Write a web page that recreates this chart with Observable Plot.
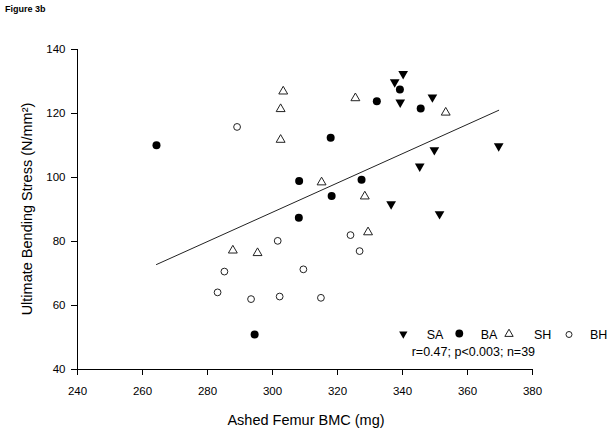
<!DOCTYPE html>
<html>
<head>
<meta charset="utf-8">
<script src="https://cdn.jsdelivr.net/npm/d3@7"></script>
<script src="https://cdn.jsdelivr.net/npm/@observablehq/plot@0.6"></script>
<style>
  html, body { margin: 0; padding: 0; background: #fff; }
  #wrap { position: relative; width: 612px; height: 430px; overflow: hidden; }
  #wrap svg { position: absolute; left: 0; top: 0; }
</style>
</head>
<body>
<div id="wrap"></div>
<script>
// ---- data ----
const groups = ["SA", "BA", "SH", "BH"];

const saX = [340.2, 337.6, 339.3, 349.2, 349.8, 345.3, 369.6, 336.5, 351.4];
const saY = [132.4, 129.8, 123.5, 125.1, 108.6, 103.5, 109.8, 91.7, 88.6];

const baX = [264.3, 317.9, 308.2, 327.4, 318.2, 308.1, 339.2, 332.1, 345.6, 294.5];
const baY = [110.1, 112.4, 98.9, 99.3, 94.2, 87.4, 127.5, 123.8, 121.6, 50.9];

const shX = [303.3, 302.5, 302.5, 315.1, 325.5, 328.4, 353.3, 287.8, 295.4, 329.4];
const shY = [126.9, 121.4, 111.8, 98.5, 124.8, 94.1, 120.3, 77.2, 76.4, 82.9];

const bhX = [289.1, 301.6, 285.2, 283.1, 293.4, 302.2, 309.5, 314.9, 324.0, 326.8];
const bhY = [115.8, 80.2, 70.6, 64.1, 62.0, 62.8, 71.3, 62.4, 82.0, 77.0];

// regression line end points
const fitX = [264.3, 369.6];
const fitY = [72.8, 121.0];

const xTicks = [240, 260, 280, 300, 320, 340, 360, 380];
const yTicks = [40, 60, 80, 100, 120, 140];

const figureLabel = "Figure 3b";
const xTitle = "Ashed Femur BMC (mg)";
const yTitle = "Ultimate Bending Stress (N/mm²)";
const statsText = "r=0.47; p<0.003; n=39";

// ---- tables ----
const toRows = (xs, ys, g) => xs.map((x, i) => ({x, y: ys[i], g}));
const sa = toRows(saX, saY, groups[0]);
const ba = toRows(baX, baY, groups[1]);
const sh = toRows(shX, shY, groups[2]);
const bh = toRows(bhX, bhY, groups[3]);
const fit = fitX.map((x, i) => ({x, y: fitY[i]}));

const font = "'Liberation Sans', Arial, sans-serif";

const svg = Plot.plot({
  width: 612,
  height: 430,
  marginLeft: 77,
  marginRight: 80,
  marginTop: 49,
  marginBottom: 61,
  style: {fontFamily: font, fontSize: "11.5px", color: "#000", background: "#fff"},
  x: {domain: [240, 380]},
  y: {domain: [40, 140]},
  marks: [
    Plot.ruleX([240], {stroke: "#000", strokeWidth: 1}),
    Plot.ruleY([40], {stroke: "#000", strokeWidth: 1}),
    Plot.line(fit, {x: "x", y: "y", stroke: "#222", strokeWidth: 1}),
    Plot.dot(bh, {x: "x", y: "y", symbol: "circle", r: 3.4, fill: "#fff", stroke: "#222", strokeWidth: 1}),
    Plot.dot(sh, {x: "x", y: "y", symbol: "triangle", r: 3.3, fill: "#fff", stroke: "#222", strokeWidth: 1}),
    Plot.dot(ba, {x: "x", y: "y", symbol: "circle", r: 4, fill: "#000", stroke: "none"}),
    Plot.dot(sa, {x: "x", y: "y", symbol: "triangle", rotate: 180, r: 3.6, fill: "#000", stroke: "none"}),
    Plot.axisX(xTicks, {tickSize: 6, tickPadding: 11, label: null, stroke: "#000"}),
    Plot.axisY(yTicks, {tickSize: 6, tickPadding: 6, label: null, stroke: "#000"})
  ]
});

document.getElementById("wrap").appendChild(svg);

// ---- text and legend ----
const s = d3.select(svg);
s.append("text").attr("x", 5).attr("y", 11.5).attr("text-anchor", "start")
  .attr("font-family", font).attr("font-size", 9).attr("font-weight", "bold")
  .attr("fill", "#000").text(figureLabel);

s.append("text").attr("x", 306).attr("y", 425).attr("text-anchor", "middle")
  .attr("font-family", font).attr("font-size", 14.5).attr("fill", "#000").text(xTitle);

s.append("text").attr("transform", "translate(32,209) rotate(-90)").attr("text-anchor", "middle")
  .attr("font-family", font).attr("font-size", 14.5).attr("fill", "#000").text(yTitle);

const legend = [
  {sym: d3.symbolTriangle, rot: 180, size: 30, fill: "#000", stroke: "none", cx: 403.3, cy: 334, label: groups[0], lx: 426.7},
  {sym: d3.symbolCircle, rot: 0, size: 48, fill: "#000", stroke: "none", cx: 459.3, cy: 333.5, label: groups[1], lx: 480.7},
  {sym: d3.symbolTriangle, rot: 0, size: 30, fill: "#fff", stroke: "#222", cx: 509, cy: 334, label: groups[2], lx: 534},
  {sym: d3.symbolCircle, rot: 0, size: 28, fill: "#fff", stroke: "#222", cx: 569, cy: 334.5, label: groups[3], lx: 590}
];
const lg = s.append("g").attr("text-anchor", "start");
for (const d of legend) {
  lg.append("path").attr("d", d3.symbol(d.sym, d.size)())
    .attr("transform", `translate(${d.cx},${d.cy}) rotate(${d.rot})`)
    .attr("fill", d.fill).attr("stroke", d.stroke).attr("stroke-width", 1);
  lg.append("text").attr("x", d.lx).attr("y", 339).attr("text-anchor", "start")
    .attr("font-family", font).attr("font-size", 12.5).attr("fill", "#000").text(d.label);
}
lg.append("text").attr("x", 411.7).attr("y", 356).attr("text-anchor", "start")
  .attr("font-family", font).attr("font-size", 12.5).attr("fill", "#000").text(statsText);
</script>
</body>
</html>
